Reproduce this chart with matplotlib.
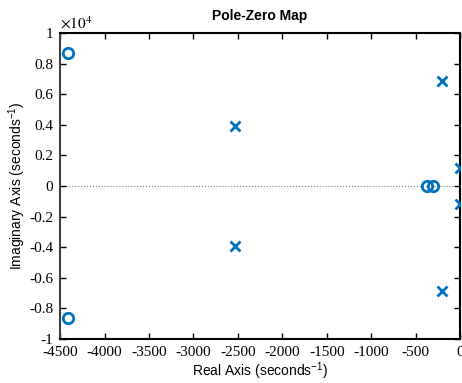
import numpy as np
import matplotlib.pyplot as plt
from matplotlib.ticker import FuncFormatter

plt.rcParams['axes.unicode_minus'] = False

# pole / zero locations
zero_re = [-4410, -4410, -370, -300]
zero_im = [8660, -8660, 0, 0]
pole_re = [-2530, -2530, -200, -200, -5, -5]
pole_im = [3950, -3950, 6840, -6840, 1180, -1180]

xticks = np.arange(-4500, 1, 500)
yticks = np.arange(-1e4, 1.01e4, 2000)

col = '#0072BD'
fig = plt.figure(figsize=(4.62, 3.83), dpi=100)
ax = fig.add_axes([0.130, 0.115, 0.866, 0.799])

ax.axhline(0, color='#808080', ls=':', lw=0.8, zorder=1)
ax.axvline(0, color='#808080', ls=':', lw=0.8, zorder=1)
ax.plot(zero_re, zero_im, 'o', ms=7.5, mew=2, mfc='none', mec=col, zorder=3)
ax.plot(pole_re, pole_im, 'x', ms=6.5, mew=2, color=col, zorder=3)

ax.set_xlim(-4500, 0)
ax.set_ylim(-1e4, 1e4)
ax.set_xticks(xticks)
ax.set_yticks(yticks)
ax.yaxis.set_major_formatter(FuncFormatter(lambda v, p: '%g' % round(v / 1e4, 1)))
ax.tick_params(direction='in', top=True, right=True, length=4, width=1,
               labelsize=11)
ax.tick_params(axis='x', pad=5)
ax.tick_params(axis='y', pad=5)
for lab in ax.get_xticklabels() + ax.get_yticklabels():
    lab.set_family('Liberation Serif')
for s in ax.spines.values():
    s.set_linewidth(1.5)
ax.spines['left'].set_color('#404040')

ax.text(0, 1.005, r'$\times 10^{4}$', transform=ax.transAxes, fontsize=11,
        family='Liberation Serif', va='bottom', ha='left',
        math_fontfamily='stix')
ax.set_title('Pole-Zero Map', fontsize=10, fontweight='bold',
             family='Liberation Sans', pad=9)
ax.set_xlabel('Real Axis (seconds$^{\\mathregular{-1}}$)', fontsize=10,
              family='Liberation Sans', labelpad=1)
ax.set_ylabel('Imaginary Axis (seconds$^{\\mathregular{-1}}$)', fontsize=10,
              family='Liberation Sans', labelpad=1)

fig.savefig('out.png', dpi=100)
